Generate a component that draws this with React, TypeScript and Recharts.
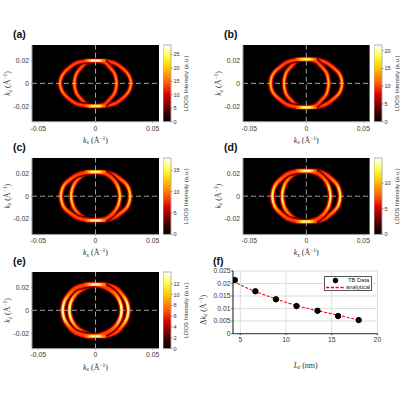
import React from "react";
import { ComposedChart, BarChart, Bar, Line, XAxis, YAxis, CartesianGrid, ReferenceLine, Legend } from "recharts";

type P = [number, number];

// upper half of the right-hand ring, inner side to outer side
const ringA: P[] = [[-0.0185,0],[-0.0178,0.005],[-0.0161,0.0095],[-0.012,0.0145],[-0.0083,0.018],[-0.004,0.0193],[0.001,0.0198],[0.006,0.0196],[0.011,0.0191],[0.017,0.0176],[0.0222,0.0142],[0.0268,0.0101],[0.03,0.005],[0.031,0]];
const ringB: P[] = [[-0.0196,0],[-0.019,0.005],[-0.0172,0.0101],[-0.0128,0.0152],[-0.0088,0.019],[-0.0042,0.0205],[0.001,0.021],[0.006,0.0208],[0.011,0.0201],[0.017,0.0184],[0.022,0.015],[0.0272,0.0106],[0.0303,0.0058],[0.0313,0]];
const ringC: P[] = [[-0.0213,0],[-0.0207,0.005],[-0.0188,0.0102],[-0.0152,0.0152],[-0.01,0.0192],[-0.0048,0.0207],[0.001,0.0212],[0.006,0.021],[0.011,0.0202],[0.0165,0.0184],[0.0215,0.0152],[0.0268,0.0107],[0.0293,0.0058],[0.0303,0]];
const ringD: P[] = [[-0.0212,0],[-0.0206,0.005],[-0.0188,0.0106],[-0.0152,0.0158],[-0.0102,0.0198],[-0.0048,0.0216],[0.001,0.0222],[0.006,0.022],[0.011,0.0212],[0.0165,0.0194],[0.0212,0.016],[0.0262,0.0112],[0.0288,0.006],[0.0297,0]];
const ringE: P[] = [[-0.0228,0],[-0.0222,0.005],[-0.0205,0.0095],[-0.017,0.0146],[-0.011,0.019],[-0.005,0.0215],[0.001,0.0225],[0.006,0.0224],[0.011,0.0215],[0.017,0.0195],[0.0214,0.016],[0.0257,0.0105],[0.0279,0.0055],[0.0287,0]];

const cbarTicksA = [0, 5, 10, 15, 20, 25];
const cbarTicksB = [0, 5, 10, 15, 20];
const cbarTicksC = [0, 5, 10, 15];
const cbarTicksD = [0, 5, 10];
const cbarTicksE = [0, 2, 4, 6, 8, 10, 12];

const kxTicks = [-0.05, 0, 0.05];
const kzTicks = [-0.02, 0, 0.02];

const tbLz = [4.4, 6.65, 8.9, 11.15, 13.45, 15.7, 17.95];
const tbDk = [0.0214, 0.0169, 0.0137, 0.011, 0.0091, 0.007, 0.0054];
const anLz = [4.2, 6, 8, 10, 12, 14, 16, 18];
const anDk = [0.0209, 0.0178, 0.015, 0.0125, 0.0104, 0.0087, 0.0071, 0.0053];
const fxTicks = [5, 10, 15, 20];
const fyTicks = [0, 0.005, 0.01, 0.015, 0.02, 0.025];

const hotSpanOuter = 0.0078;
const hotSpanMid = 0.0052;
const hotSpanInner = 0.0034;

const SANS = "'Liberation Sans', Arial, sans-serif";
const SERIF = "'Liberation Serif', serif";
const TICK = "#333";

// the closed loop starts at the top of the ring so the seam hides under the bright patch
const closed = (pts: P[], sign: number) => {
  const up = pts.map(([x, z]) => ({ x: sign * x, z }));
  const down = pts.slice(1, -1).reverse().map(([x, z]) => ({ x: sign * x, z: -z }));
  const loop = [...up, ...down];
  return [...loop.slice(6), ...loop.slice(0, 7)];
};

const baseLayers: [number, string][] = [
  [6.4, "#1c0000"], [5.6, "#500000"], [4.8, "#900000"], [4.0, "#cc0000"], [3.2, "#f01800"], [2.4, "#ff4200"],
];

const hotStops = [
  ["0%", "#000000"], ["12%", "#3a0000"], ["36%", "#e00000"], ["50%", "#ff5a00"], ["72%", "#ffd000"], ["86%", "#ffff50"], ["100%", "#ffffff"],
];

function Kx({ x, y }: { x: number; y: number }) {
  return (
    <text x={x} y={y} textAnchor="middle" fontFamily={SERIF} fontSize={8} fill={TICK}>
      <tspan fontStyle="italic">k</tspan>
      <tspan fontStyle="italic" fontSize={5.5} dy={1.5}>x</tspan>
      <tspan dy={-1.5}> (Å</tspan>
      <tspan fontSize={5.5} dy={-3}>−1</tspan>
      <tspan dy={3}>)</tspan>
    </text>
  );
}
function Kz({ x, y }: { x: number; y: number }) {
  return (
    <text x={x} y={y} textAnchor="middle" fontFamily={SERIF} fontSize={8} fill={TICK} transform={`rotate(-90 ${x} ${y})`}>
      <tspan fontStyle="italic">k</tspan>
      <tspan fontStyle="italic" fontSize={5.5} dy={1.5}>z</tspan>
      <tspan dy={-1.5}> (Å</tspan>
      <tspan fontSize={5.5} dy={-3}>−1</tspan>
      <tspan dy={3}>)</tspan>
    </text>
  );
}

type PanelProps = {
  id: string; x0: number; y0: number; w: number; h: number; ring: P[]; top: number;
  max: number; ticks: number[]; sideA: string; sideB: string; sideW: number; extra: number; hotW: number; cbx: number;
};

function Heat(p: PanelProps) {
  const L = 35;
  const T = 5;
  const right = closed(p.ring, 1);
  const left = closed(p.ring, -1);
  const rings = [right, left];
  const hot: [number, string, number][] = [
    [hotSpanOuter, "#ff7000", p.hotW * 1.15],
    [hotSpanMid, "#ffc000", p.hotW],
    [hotSpanInner, "#fff6b0", p.hotW * 0.6],
  ];
  return (
    <>
      <div style={{ position: "absolute", left: p.x0 - L, top: p.y0 - T }}>
        <ComposedChart width={p.w + L + 5} height={p.h + T + 32} margin={{ top: T, right: 5, left: 0, bottom: 0 }}>
          <defs>
            <linearGradient id={`side-${p.id}`} x1="0" y1="0" x2="0" y2="1">
              <stop offset="8%" stopColor={p.sideA} stopOpacity={0} />
              <stop offset="32%" stopColor={p.sideA} stopOpacity={1} />
              <stop offset="68%" stopColor={p.sideA} stopOpacity={1} />
              <stop offset="92%" stopColor={p.sideA} stopOpacity={0} />
            </linearGradient>
            <linearGradient id={`core-${p.id}`} x1="0" y1="0" x2="0" y2="1">
              <stop offset="22%" stopColor={p.sideB} stopOpacity={0} />
              <stop offset="42%" stopColor={p.sideB} stopOpacity={1} />
              <stop offset="58%" stopColor={p.sideB} stopOpacity={1} />
              <stop offset="78%" stopColor={p.sideB} stopOpacity={0} />
            </linearGradient>
          </defs>
          <CartesianGrid horizontal={false} vertical={false} fill="#000" stroke="none" />
          <XAxis dataKey="x" type="number" domain={[-0.0555, 0.0555]} ticks={kxTicks} height={32} tickSize={1} tickMargin={3}
            tickFormatter={(v: number) => String(v)} interval={0} allowDataOverflow
            tick={{ fontSize: 6.8, fill: TICK, fontFamily: SANS }} stroke="#999" />
          <YAxis dataKey="z" type="number" domain={[-0.0334, 0.0334]} ticks={kzTicks} width={L} tickSize={1} tickMargin={2}
            tickFormatter={(v: number) => String(v)} interval={0} allowDataOverflow
            tick={{ fontSize: 6.8, fill: TICK, fontFamily: SANS }} stroke="#999" />
          <XAxis xAxisId="t" orientation="top" type="number" domain={[-0.0555, 0.0555]} ticks={kxTicks} height={0} tickSize={1}
            tickFormatter={() => ""} stroke="#999" />
          <YAxis yAxisId="r" orientation="right" type="number" domain={[-0.0334, 0.0334]} ticks={kzTicks} width={0} tickSize={1}
            tickFormatter={() => ""} stroke="#999" />
          {rings.map((data, r) =>
            baseLayers.map(([sw, c], i) => (
              <Line key={`b${r}-${i}`} data={data} dataKey="z" type="natural" stroke={c} strokeWidth={sw + p.extra}
                dot={false} activeDot={false} isAnimationActive={false} legendType="none" />
            ))
          )}
          {rings.map((data, r) => (
            <Line key={`s${r}`} data={data} dataKey="z" type="natural" stroke={`url(#side-${p.id})`} strokeWidth={p.sideW + 0.8}
              dot={false} activeDot={false} isAnimationActive={false} legendType="none" />
          ))}
          {rings.map((data, r) => (
            <Line key={`c${r}`} data={data} dataKey="z" type="natural" stroke={`url(#core-${p.id})`} strokeWidth={p.sideW}
              dot={false} activeDot={false} isAnimationActive={false} legendType="none" />
          ))}
          {hot.map(([span, c, sw]) =>
            [p.top, -p.top].map((z) => (
              <Line key={`h${span}-${z}`} data={[{ x: -span, z }, { x: span, z }]} dataKey="z" stroke={c} strokeWidth={sw} strokeLinecap="round"
                dot={false} activeDot={false} isAnimationActive={false} legendType="none" />
            ))
          )}
          <ReferenceLine x={0} stroke="#c8c8c8" strokeWidth={0.8} strokeDasharray="5 3" />
          <ReferenceLine y={0} stroke="#c8c8c8" strokeWidth={0.8} strokeDasharray="5 3" />
          <Kx x={L + p.w / 2} y={T + p.h + 21} />
          <Kz x={L - 22} y={T + p.h / 2} />
        </ComposedChart>
      </div>
      <div style={{ position: "absolute", left: p.cbx, top: p.y0 - T }}>
        <BarChart width={40} height={p.h + T + 5} data={[{ c: "cb", v: p.max }]} margin={{ top: T, right: 0, left: 0, bottom: 5 }} barCategoryGap={0}>
          <defs>
            <linearGradient id={`hot-${p.id}`} x1="0" y1="1" x2="0" y2="0">
              {hotStops.map(([o, c]) => <stop key={o} offset={o} stopColor={c} />)}
            </linearGradient>
          </defs>
          <XAxis dataKey="c" hide />
          <YAxis orientation="right" type="number" domain={[0, p.max]} ticks={p.ticks} width={31.6} tickSize={1} tickMargin={1}
            interval={0} axisLine={false} tick={{ fontSize: 5.6, fill: TICK, fontFamily: SANS }} stroke="#555" />
          <Bar dataKey="v" fill={`url(#hot-${p.id})`} stroke="#aaa" strokeWidth={0.9} isAnimationActive={false} />
          <text x={25} y={T + p.h / 2} textAnchor="middle" fontFamily={SANS} fontSize={6} fill={TICK}
            transform={`rotate(-90 25 ${T + p.h / 2})`}>LDOS Intensity (a.u.)</text>
        </BarChart>
      </div>
    </>
  );
}

function FLegend() {
  return (
    <div style={{ width: 48, height: 15, border: "1px solid #555", background: "#fff", fontFamily: SANS, fontSize: 5.8, color: "#222", boxSizing: "border-box", lineHeight: "7px", paddingTop: 0.5 }}>
      <div style={{ display: "flex", alignItems: "center", height: 7 }}>
        <svg width={21} height={7}><circle cx={10.5} cy={3.5} r={2.7} fill="#000" /></svg>
        <span style={{ marginLeft: 2 }}>TB Data</span>
      </div>
      <div style={{ display: "flex", alignItems: "center", height: 7 }}>
        <svg width={21} height={7}><line x1={1} x2={20} y1={3.5} y2={3.5} stroke="#ff0018" strokeWidth={1.3} strokeDasharray="3.2 1.6" /></svg>
        <span>analytical</span>
      </div>
    </div>
  );
}

function PanelF() {
  const L = 35, T = 5, w = 144.4, h = 77.6;
  const tb = tbLz.map((x, i) => ({ x, y: tbDk[i] }));
  const an = anLz.map((x, i) => ({ x, y: anDk[i] }));
  return (
    <div style={{ position: "absolute", left: 233.3 - L, top: 270.7 - T }}>
      <ComposedChart width={w + L + 5} height={h + T + 32} margin={{ top: T, right: 5, left: 0, bottom: 0 }}>
        <CartesianGrid stroke="#dcdcdc" strokeWidth={1} syncWithTicks />
        <XAxis dataKey="x" type="number" domain={[4.2, 20]} ticks={fxTicks} height={32} tickSize={1.5} tickMargin={2} interval={0} allowDataOverflow
          tick={{ fontSize: 6.8, fill: TICK, fontFamily: SANS }} stroke="#555" strokeWidth={1.4} />
        <YAxis dataKey="y" type="number" domain={[0, 0.025]} ticks={fyTicks} width={L} tickSize={1.5} tickMargin={1} interval={0}
          tickFormatter={(v: number) => String(v)} allowDataOverflow
          tick={{ fontSize: 6.8, fill: TICK, fontFamily: SANS }} stroke="#555" strokeWidth={1.4} />
        <XAxis xAxisId="t" orientation="top" type="number" domain={[4.2, 20]} ticks={fxTicks} height={0} tickSize={1.5}
          tickFormatter={() => ""} stroke="#555" strokeWidth={1.4} />
        <YAxis yAxisId="r" orientation="right" type="number" domain={[0, 0.025]} ticks={fyTicks} width={0} tickSize={1.5}
          tickFormatter={() => ""} stroke="#555" strokeWidth={1.4} />
        <Line data={tb} dataKey="y" stroke="none" isAnimationActive={false} activeDot={false} legendType="none"
          dot={{ r: 2.7, fill: "#000", stroke: "#000" }} />
        <Line data={an} dataKey="y" type="natural" stroke="#ff0018" strokeWidth={1.1} strokeDasharray="3 1.6" dot={false} activeDot={false} isAnimationActive={false} legendType="none" />
        <Legend content={() => <FLegend />} wrapperStyle={{ position: "absolute", left: 324 - 233.3 + L, top: 276 - 270.7 + T, width: 48, height: 15, bottom: "auto" }} />
        <text x={L + w / 2 + 0.5} y={T + h + 19} textAnchor="middle" fontFamily={SERIF} fontSize={8} fill={TICK}>
          <tspan fontStyle="italic">L</tspan>
          <tspan fontStyle="italic" fontSize={5.5} dy={1.5}>z</tspan>
          <tspan dy={-1.5}> (nm)</tspan>
        </text>
        <text x={8} y={T + h / 2} textAnchor="middle" fontFamily={SERIF} fontSize={8} fill={TICK} transform={`rotate(-90 8 ${T + h / 2})`}>
          <tspan>Δ</tspan>
          <tspan fontStyle="italic">k</tspan>
          <tspan fontStyle="italic" fontSize={5.5} dy={1.5}>z</tspan>
          <tspan dy={-1.5}> (Å</tspan>
          <tspan fontSize={5.5} dy={-3}>−1</tspan>
          <tspan dy={3}>)</tspan>
        </text>
      </ComposedChart>
    </div>
  );
}

const tags: [string, number, number][] = [
  ["(a)", 13, 28], ["(b)", 224, 28], ["(c)", 13, 141], ["(d)", 224, 141], ["(e)", 13, 255], ["(f)", 213, 255],
];

export default function App() {
  return (
    <div style={{ position: "absolute", left: 0, top: 0, width: 400, height: 400, background: "#fff", overflow: "hidden" }}>
      {tags.map(([t, x, y]) => (
        <div key={t} style={{ position: "absolute", left: x, top: y, fontFamily: SANS, fontWeight: 700, fontSize: 10.5, lineHeight: "12px", color: "#111" }}>{t}</div>
      ))}
      <Heat id="a" x0={32.3} y0={45} w={127} h={76.7} ring={ringA} top={0.0198} max={28.5} ticks={cbarTicksA} sideA="#ff7a00" sideB="#ffa000" sideW={0.9} extra={-0.5} hotW={2.6} cbx={163.4} />
      <Heat id="b" x0={242.7} y0={45} w={126.6} h={76.7} ring={ringB} top={0.021} max={21.6} ticks={cbarTicksB} sideA="#ff8c00" sideB="#ffc000" sideW={1.1} extra={-0.3} hotW={2.8} cbx={374} />
      <Heat id="c" x0={32.3} y0={158.3} w={127} h={76.4} ring={ringC} top={0.0212} max={17.9} ticks={cbarTicksC} sideA="#ffa000" sideB="#ffe000" sideW={1.3} extra={0} hotW={2.8} cbx={163.4} />
      <Heat id="d" x0={242.7} y0={158.3} w={126.6} h={76.4} ring={ringD} top={0.0222} max={14.9} ticks={cbarTicksD} sideA="#ffb000" sideB="#fff060" sideW={1.5} extra={0.2} hotW={2.8} cbx={374} />
      <Heat id="e" x0={32.3} y0={271.7} w={127} h={76.6} ring={ringE} top={0.0226} max={14.2} ticks={cbarTicksE} sideA="#ffc000" sideB="#fffac0" sideW={1.8} extra={0.5} hotW={3} cbx={163.4} />
      <PanelF />
    </div>
  );
}
